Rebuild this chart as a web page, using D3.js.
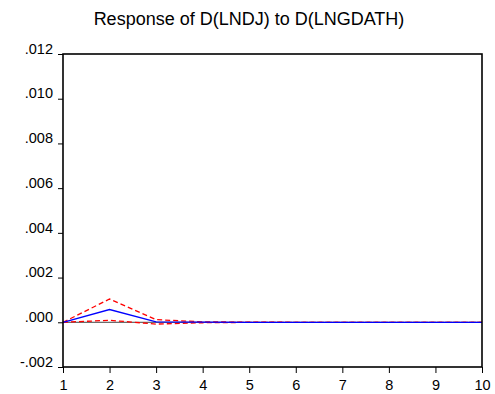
<!DOCTYPE html>
<html>
<head>
<meta charset="utf-8">
<script src="https://cdn.jsdelivr.net/npm/d3@7"></script>
<style>
  body { margin: 0; background: #fff; }
  text { font-family: "Liberation Sans", Arial, sans-serif; fill: #000; }
</style>
</head>
<body>
<div id="chart"></div>
<script>
// periods 1..10
var periods = [1, 2, 3, 4, 5, 6, 7, 8, 9, 10];
// impulse response and +/- 2 s.e. bands
var response = [0, 0.00057, 0.00002, 0.000003, 0, 0, 0, 0, 0, 0];
var upperBand = [0, 0.00104, 0.00012, 0.00002, 0.000004, 0, 0, 0, 0, 0];
var lowerBand = [0, 0.00009, -0.00008, -0.00002, -0.000004, 0, 0, 0, 0, 0];
var yTicks = [-0.002, 0, 0.002, 0.004, 0.006, 0.008, 0.010, 0.012];
var title = 'Response of D(LNDJ) to D(LNGDATH)';

var attrs = {
    svgWidth: 495,
    svgHeight: 394,
    marginTop: 54,
    marginLeft: 63,
    marginRight: 13,
    marginBottom: 27
};

var calc = {};
calc.chartWidth = attrs.svgWidth - attrs.marginLeft - attrs.marginRight;
calc.chartHeight = attrs.svgHeight - attrs.marginTop - attrs.marginBottom;

var svg = d3.select('#chart')
    .append('svg')
    .attr('width', attrs.svgWidth)
    .attr('height', attrs.svgHeight);

svg.append('text')
    .attr('x', 249)
    .attr('y', 25)
    .attr('text-anchor', 'middle')
    .style('font-size', '18px')
    .text(title);

var chart = svg.append('g')
    .attr('transform', 'translate(' + attrs.marginLeft + ',' + attrs.marginTop + ')');

var x = d3.scaleLinear().domain([1, 10]).range([0, calc.chartWidth]);
var y = d3.scaleLinear().domain([-0.002, 0.012]).range([calc.chartHeight, 0]);

// zero line
chart.append('line')
    .attr('x1', 0).attr('x2', calc.chartWidth)
    .attr('y1', y(0)).attr('y2', y(0))
    .attr('stroke', '#444')
    .attr('stroke-width', 1);

var line = d3.line()
    .x(function (d, i) { return x(periods[i]); })
    .y(function (d) { return y(d); });

chart.append('path')
    .datum(lowerBand)
    .attr('d', line)
    .attr('fill', 'none')
    .attr('stroke', '#ff0000')
    .attr('stroke-width', 1.3)
    .attr('stroke-dasharray', '5,3');

chart.append('path')
    .datum(upperBand)
    .attr('d', line)
    .attr('fill', 'none')
    .attr('stroke', '#ff0000')
    .attr('stroke-width', 1.3)
    .attr('stroke-dasharray', '5,3');

chart.append('path')
    .datum(response)
    .attr('d', line)
    .attr('fill', 'none')
    .attr('stroke', '#0000ff')
    .attr('stroke-width', 1.3);

// frame
chart.append('rect')
    .attr('x', 0).attr('y', 0)
    .attr('width', calc.chartWidth)
    .attr('height', calc.chartHeight)
    .attr('fill', 'none')
    .attr('stroke', '#000')
    .attr('stroke-width', 1.6);

// eviews style labels: .012, -.002
var fmtY = function (d) {
    var s = Math.abs(d).toFixed(3).replace(/^0\./, '.');
    return (d < 0 ? '-' : '') + s;
};

var yAxis = chart.append('g')
    .call(d3.axisLeft(y).tickValues(yTicks).tickSize(5).tickPadding(5).tickFormat(fmtY));

var xAxis = chart.append('g')
    .attr('transform', 'translate(0,' + calc.chartHeight + ')')
    .call(d3.axisBottom(x).tickValues(periods).tickSize(6).tickPadding(7)
        .tickFormat(d3.format('d')));

[yAxis, xAxis].forEach(function (g) {
    g.select('.domain').remove();
    g.selectAll('.tick line').attr('stroke', '#000');
    g.selectAll('.tick text')
        .style('font-family', '"Liberation Sans", Arial, sans-serif')
        .style('font-size', '14.5px')
        .attr('fill', '#000');
});
yAxis.selectAll('.tick text').attr('dy', '-0.05em');
</script>
</body>
</html>
